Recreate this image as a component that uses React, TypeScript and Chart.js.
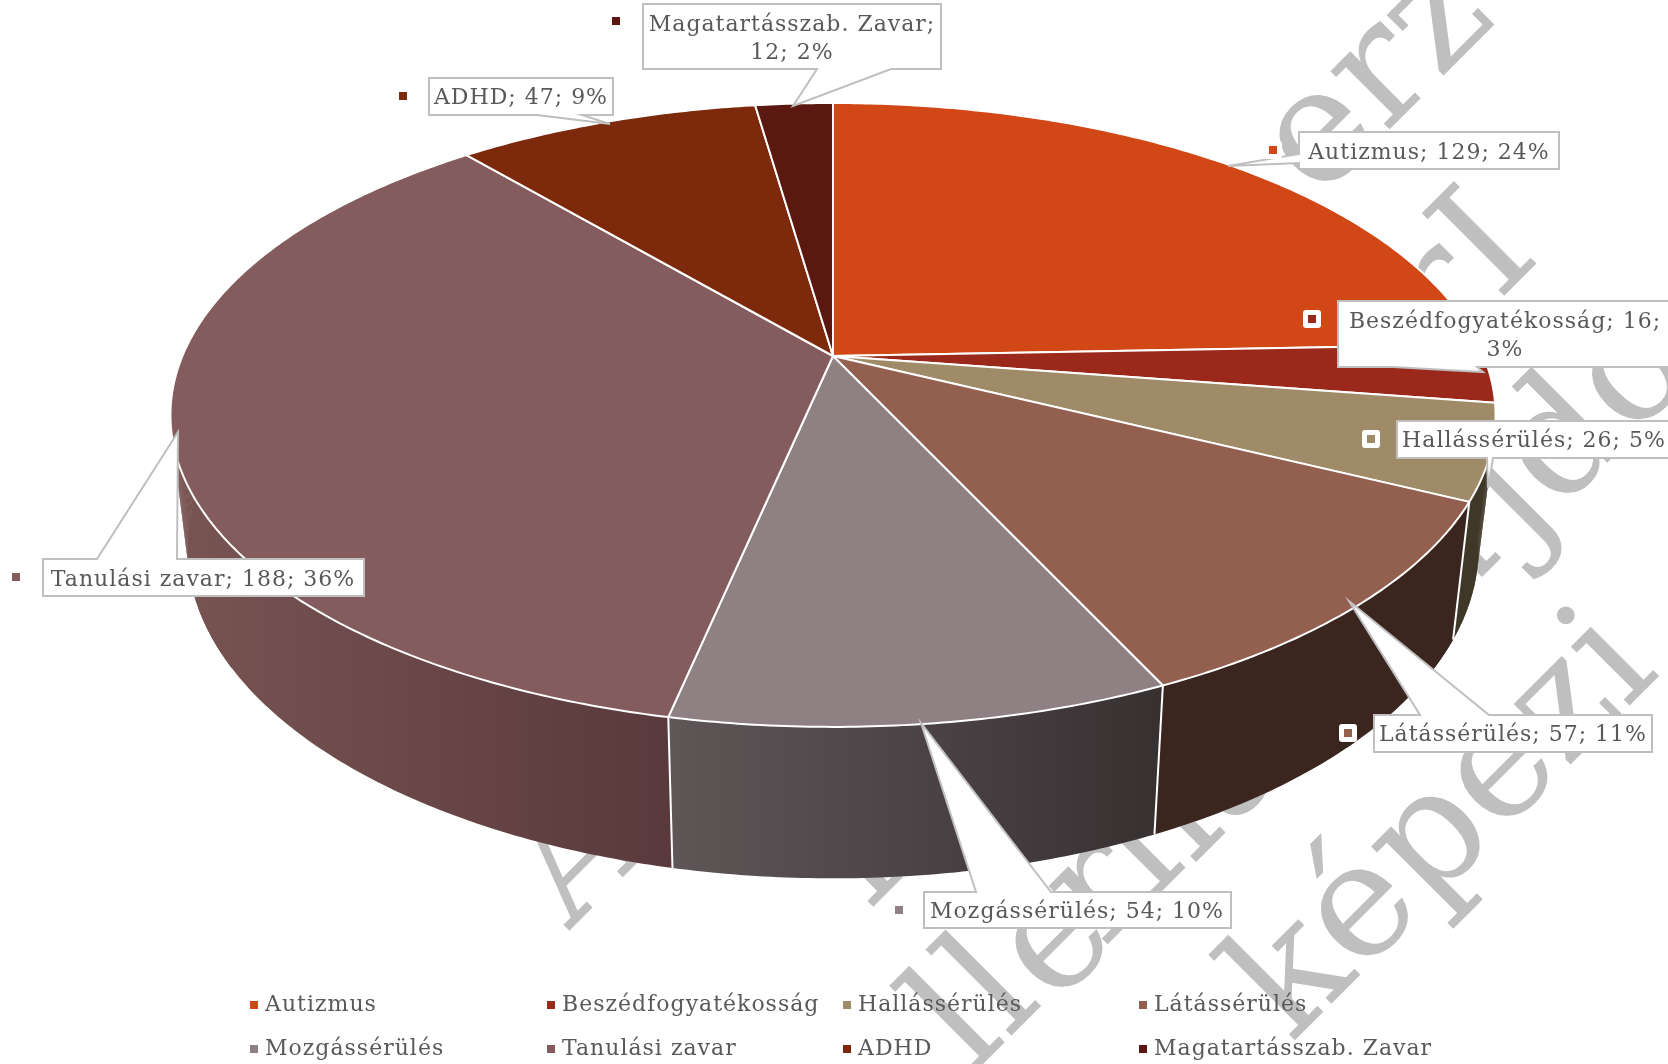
import React, { useEffect, useRef } from "react";
import { Chart, registerables } from "chart.js";

Chart.register(...registerables);

const categories = ["Autizmus", "Beszédfogyatékosság", "Hallássérülés", "Látássérülés", "Mozgássérülés", "Tanulási zavar", "ADHD", "Magatartásszab. Zavar"];
const values = [129, 16, 26, 57, 54, 188, 47, 12];
const topColors = ["#D14716", "#9A291C", "#A08B68", "#935F4F", "#8F8083", "#845C5D", "#7D2A0C", "#5A1810"];
const wallLeft = ["#8a3010", "#641a12", "#3f3728", "#3a251f", "#5f5658", "#785553", "#52200a", "#3a100a"];
const wallRight = ["#8a3010", "#641a12", "#3f3728", "#3a251f", "#373031", "#5a393c", "#52200a", "#3a100a"];

const FONT = '"DejaVu Serif"';
const TEXT_SIZE = 22;
const TEXT_COLOR = "#595959";
const GRAY = "#BFBFBF";

// perspective of the disc
const P = { cx: 833, k: 0.189, topR: 650.6, topY: 356, topS: 300.8, botR: 634, botY: 485, botS: 319 };

const project = (a: number, bottom: boolean) => {
  const u = Math.cos(a), v = Math.sin(a);
  const d = 1 - P.k * v;
  return bottom
    ? { x: P.cx + (P.botR * u) / d, y: P.botY + (P.botS * v) / d }
    : { x: P.cx + (P.topR * u) / d, y: P.topY + (P.topS * v) / d };
};

type Box = { box: number[]; pointer: number[]; side: string; marker: number[]; textX: number; textY: number; firstLineWords?: number };
const labelLayout: Box[] = [
  { box: [1299, 132, 260, 37], pointer: [154, 163, 1228, 166], side: "left", marker: [1273, 150], textX: 1429, textY: 153 },
  { box: [1338, 301, 334, 66], pointer: [1393, 1477, 1483, 372], side: "bottom", marker: [1312, 319], textX: 1505, textY: 322, firstLineWords: 2 },
  { box: [1397, 421, 274, 37], pointer: [1487, 1493, 1488, 488], side: "bottom", marker: [1371, 439], textX: 1534, textY: 441 },
  { box: [1374, 715, 278, 37], pointer: [1420, 1489, 1349, 601], side: "top", marker: [1348, 733], textX: 1513, textY: 735 },
  { box: [924, 892, 307, 36], pointer: [976, 1051, 921, 723], side: "top", marker: [899, 910], textX: 1077, textY: 912 },
  { box: [43, 559, 321, 37], pointer: [97, 177, 178, 432], side: "top", marker: [16, 577], textX: 203, textY: 580 },
  { box: [429, 78, 184, 37], pointer: [537, 582, 610, 124], side: "bottom", marker: [403, 96], textX: 521, textY: 98 },
  { box: [643, 4, 298, 65], pointer: [817, 891, 793, 106], side: "bottom", marker: [616, 21], textX: 792, textY: 25, firstLineWords: 2 },
];

const legendColumns = [250, 547, 843, 1139];
const legendRows = [1005, 1049];

const WATERMARK_ANGLE = (-45 * Math.PI) / 180;
const WATERMARK_SIZE = 160;
const watermark: { t: string; x: number; y: number }[] = [
  { t: "A", x: 570, y: 930 },
  { t: "erző", x: 1318, y: 201 },
  { t: "l", x: 870, y: 910 },
  { t: "rI", x: 1444, y: 356 },
  { t: "ll", x: 972, y: 1075 },
  { t: "e", x: 1054, y: 1007 },
  { t: "r", x: 1103, y: 949 },
  { t: "i", x: 1152, y: 901 },
  { t: "i", x: 1192, y: 866 },
  { t: "a", x: 1229, y: 830 },
  { t: "a", x: 1437, y: 622 },
  { t: "jdo", x: 1523, y: 547 },
  { t: "képezi", x: 1291, y: 1044 },
];

const pie3d = {
  id: "pie3d",
  beforeDraw(chart: any) {
    const { ctx, width, height } = chart;
    ctx.save();
    ctx.fillStyle = "#fff";
    ctx.fillRect(0, 0, width, height);
    ctx.fillStyle = GRAY;
    ctx.font = `${WATERMARK_SIZE}px ${FONT}`;
    ctx.textBaseline = "alphabetic";
    for (const w of watermark) {
      ctx.save();
      ctx.translate(w.x, w.y);
      ctx.rotate(WATERMARK_ANGLE);
      ctx.fillText(w.t, 0, 0);
      ctx.restore();
    }
    ctx.restore();
  },
  beforeDatasetDraw(chart: any) {
    const { ctx } = chart;
    const arcs = chart.getDatasetMeta(0).data;
    ctx.save();
    // side wall of every slice, back to front
    const order = arcs
      .map((arc: any, i: number) => ({ arc, i, v: Math.sin((arc.startAngle + arc.endAngle) / 2) }))
      .sort((p: any, q: any) => p.v - q.v);
    for (const { arc, i } of order) {
      const a0 = arc.startAngle, a1 = arc.endAngle;
      const n = Math.max(2, Math.ceil((a1 - a0) / 0.01));
      const pts: { x: number; y: number }[] = [];
      for (let s = 0; s <= n; s++) pts.push(project(a0 + ((a1 - a0) * s) / n, false));
      for (let s = n; s >= 0; s--) pts.push(project(a0 + ((a1 - a0) * s) / n, true));
      const xs = pts.map((o) => o.x);
      const grad = ctx.createLinearGradient(Math.min(...xs), 0, Math.max(...xs), 0);
      grad.addColorStop(0, wallLeft[i]);
      grad.addColorStop(1, wallRight[i]);
      ctx.fillStyle = grad;
      ctx.beginPath();
      pts.forEach((o, j) => (j ? ctx.lineTo(o.x, o.y) : ctx.moveTo(o.x, o.y)));
      ctx.closePath();
      ctx.fill();
      // overlapping strips fill the silhouette between the two rims
      for (let s = 0; s < n; s++) {
        const b0 = a0 + ((a1 - a0) * s) / n, b1 = a0 + ((a1 - a0) * (s + 1)) / n;
        if (Math.abs(Math.cos(b0)) < 0.85) continue;
        const q = [project(b0, false), project(b1, false), project(b1, true), project(b0, true)];
        ctx.beginPath();
        q.forEach((o, j) => (j ? ctx.lineTo(o.x, o.y) : ctx.moveTo(o.x, o.y)));
        ctx.closePath();
        ctx.fill();
      }
    }
    // wall separators
    ctx.strokeStyle = "#fff";
    ctx.lineWidth = 2;
    arcs.forEach((arc: any) => {
      if (Math.sin(arc.endAngle) > 0.2) {
        const t = project(arc.endAngle, false), b = project(arc.endAngle, true);
        ctx.beginPath();
        ctx.moveTo(t.x, t.y);
        ctx.lineTo(b.x, b.y);
        ctx.stroke();
      }
    });
    // top face
    arcs.forEach((arc: any, i: number) => {
      const a0 = arc.startAngle, a1 = arc.endAngle;
      const n = Math.max(2, Math.ceil((a1 - a0) / 0.01));
      ctx.beginPath();
      ctx.moveTo(P.cx, P.topY);
      for (let s = 0; s <= n; s++) {
        const o = project(a0 + ((a1 - a0) * s) / n, false);
        ctx.lineTo(o.x, o.y);
      }
      ctx.closePath();
      ctx.fillStyle = arc.options.backgroundColor;
      ctx.fill();
      ctx.strokeStyle = "#fff";
      ctx.lineWidth = 2;
      ctx.lineJoin = "round";
      ctx.stroke();
    });
    ctx.restore();
    return false;
  },
  afterDatasetsDraw(chart: any) {
    const { ctx } = chart;
    const data: number[] = chart.data.datasets[0].data;
    const colors: string[] = chart.data.datasets[0].backgroundColor;
    const labels: string[] = chart.data.labels;
    const total = data.reduce((a, b) => a + b, 0);
    ctx.save();
    ctx.font = `${TEXT_SIZE}px ${FONT}`;
    ctx.letterSpacing = "1px";
    ctx.textBaseline = "middle";
    labelLayout.forEach((l, i) => {
      const [x, y, w, h] = l.box;
      const pt = l.pointer;
      ctx.beginPath();
      ctx.moveTo(x, y);
      if (l.side === "top") { ctx.lineTo(pt[0], y); ctx.lineTo(pt[2], pt[3]); ctx.lineTo(pt[1], y); }
      ctx.lineTo(x + w, y);
      ctx.lineTo(x + w, y + h);
      if (l.side === "bottom") { ctx.lineTo(pt[1], y + h); ctx.lineTo(pt[2], pt[3]); ctx.lineTo(pt[0], y + h); }
      ctx.lineTo(x, y + h);
      if (l.side === "left") { ctx.lineTo(x, pt[1]); ctx.lineTo(pt[2], pt[3]); ctx.lineTo(x, pt[0]); }
      ctx.closePath();
      ctx.fillStyle = "#fff";
      ctx.fill();
      ctx.strokeStyle = GRAY;
      ctx.lineWidth = 2;
      ctx.stroke();
      // marker
      const [mx, my] = l.marker;
      ctx.fillStyle = "#fff";
      ctx.beginPath();
      ctx.roundRect(mx - 9, my - 9, 18, 18, 3);
      ctx.fill();
      ctx.fillStyle = colors[i];
      ctx.fillRect(mx - 4, my - 4, 8, 8);
      // text
      const pct = Math.round((data[i] / total) * 100);
      const words = `${labels[i]}; ${data[i]}; ${pct}%`.split(" ");
      const lines = l.firstLineWords
        ? [words.slice(0, l.firstLineWords).join(" "), words.slice(l.firstLineWords).join(" ")]
        : [words.join(" ")];
      ctx.fillStyle = TEXT_COLOR;
      ctx.textAlign = "center";
      lines.forEach((t, j) => ctx.fillText(t, l.textX, l.textY + j * 28));
    });
    // legend
    ctx.textAlign = "left";
    labels.forEach((t, i) => {
      const x = legendColumns[i % 4], y = legendRows[Math.floor(i / 4)];
      ctx.fillStyle = colors[i];
      ctx.fillRect(x, y - 4, 8, 8);
      ctx.fillStyle = TEXT_COLOR;
      ctx.fillText(t, x + 15, y);
    });
    ctx.restore();
  },
};

export default function App() {
  const ref = useRef<HTMLCanvasElement>(null);
  useEffect(() => {
    const chart = new Chart(ref.current!, {
      type: "pie",
      data: { labels: categories, datasets: [{ data: values, backgroundColor: topColors, borderColor: "#fff", borderWidth: 2 }] },
      options: {
        responsive: false,
        animation: false,
        plugins: { legend: { display: false }, tooltip: { enabled: false } },
      },
      plugins: [pie3d],
    } as any);
    return () => chart.destroy();
  }, []);
  return (
    <div style={{ position: "fixed", left: 0, top: 0, width: 1668, height: 1064, background: "#fff" }}>
      <canvas ref={ref} width={1668} height={1064} style={{ display: "block" }} />
    </div>
  );
}
